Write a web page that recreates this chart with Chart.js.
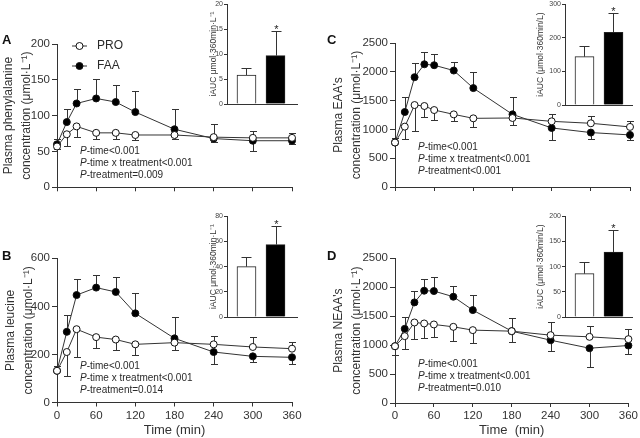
<!DOCTYPE html>
<html>
<head>
<meta charset="utf-8">
<script src="https://cdn.jsdelivr.net/npm/chart.js@4.4.1/dist/chart.umd.min.js"></script>
<style>
  body { margin: 0; background: #fff; }
  #wrap { position: relative; width: 640px; height: 438px; overflow: hidden; font-family: "Liberation Sans", Arial, sans-serif; color: #2a2a2a; }
  canvas { position: absolute; }
  .letter { position: absolute; font-weight: bold; font-size: 13px; line-height: 13px; color: #111; }
  .pv { position: absolute; font-size: 10px; line-height: 12px; white-space: nowrap; }
</style>
</head>
<body>
<div id="wrap">
  <canvas id="cA" width="320" height="219" style="left:0;top:0"></canvas>
  <canvas id="cB" width="320" height="219" style="left:0;top:219px"></canvas>
  <canvas id="cC" width="320" height="219" style="left:320px;top:0"></canvas>
  <canvas id="cD" width="320" height="219" style="left:320px;top:219px"></canvas>
  <canvas id="iA" width="100" height="111" style="left:205px;top:-1px"></canvas>
  <canvas id="iB" width="100" height="112" style="left:205px;top:211px"></canvas>
  <canvas id="iC" width="110" height="112" style="left:530px;top:-1px"></canvas>
  <canvas id="iD" width="110" height="112" style="left:530px;top:211px"></canvas>

  <div class="letter" style="left:2px;top:33px">A</div>
  <div class="letter" style="left:2px;top:249px">B</div>
  <div class="letter" style="left:327px;top:33px">C</div>
  <div class="letter" style="left:327px;top:249px">D</div>

  <div class="pv" style="left:80px;top:145px"><i>P</i>-time&lt;0.001<br><i>P</i>-time x treatment&lt;0.001<br><i>P</i>-treatment=0.009</div>
  <div class="pv" style="left:80px;top:360px"><i>P</i>-time&lt;0.001<br><i>P</i>-time x treatment&lt;0.001<br><i>P</i>-treatment=0.014</div>
  <div class="pv" style="left:418px;top:141px"><i>P</i>-time&lt;0.001<br><i>P</i>-time x treatment&lt;0.001<br><i>P</i>-treatment&lt;0.001</div>
  <div class="pv" style="left:418px;top:358px"><i>P</i>-time&lt;0.001<br><i>P</i>-time x treatment&lt;0.001<br><i>P</i>-treatment=0.010</div>
</div>
<script>
// sampling times (min)
const timesAB = [0, 15, 30, 60, 90, 120, 180, 240, 300, 360];
const timesCD = [0, 15, 30, 45, 60, 90, 120, 180, 240, 300, 360];
const xTicks = [0, 60, 120, 180, 240, 300, 360];

// error values: positive = bar drawn up, negative = drawn down
const pheProMean = [57, 74, 85, 76, 76, 73, 73, 70, 69, 69];
const pheProErr  = [-4, -16, -15, -9, -9, -7, -6, 19, 9, 7];
const pheFaaMean = [60, 91, 117, 124, 119, 105, 81, 68, 65, 65];
const pheFaaErr  = [8, 18, 20, 27, 24, 30, 28, -5, -14, -5];

const leuProMean = [132, 210, 305, 272, 262, 242, 249, 242, 231, 224];
const leuProErr  = [0, -98, -115, -44, -43, -43, -32, 36, 40, 29];
const leuFaaMean = [132, 294, 447, 478, 460, 371, 267, 210, 192, 188];
const leuFaaErr  = [20, 68, 65, 53, 64, 86, 87, -48, -25, -26];

const eaaProMean = [772, 1048, 1423, 1406, 1336, 1261, 1192, 1198, 1140, 1106, 1043];
const eaaProErr  = [0, -219, -444, -196, -172, -121, -144, -115, 133, 132, 103];
const eaaFaaMean = [772, 1302, 1907, 2131, 2114, 2022, 1717, 1261, 1025, 945, 904];
const eaaFaaErr  = [75, 253, 242, 219, 202, 155, 282, 306, -213, -104, -92];

const neaaProMean = [981, 1155, 1391, 1374, 1357, 1316, 1259, 1241, 1172, 1143, 1103];
const neaaProErr  = [-155, -220, -288, -248, -225, -242, -214, -184, 219, 191, 167];
const neaaFaaMean = [981, 1282, 1738, 1940, 1934, 1836, 1605, 1241, 1085, 947, 993];
const neaaFaaErr  = [0, 196, 196, 196, 237, 179, 254, 231, -190, -329, -138];

const pheTicks = [0, 50, 100, 150, 200];
const leuTicks = [0, 200, 400, 600];
const aaTicks = [0, 500, 1000, 1500, 2000, 2500];

// iAUC insets: [PRO, FAA]
const aucPhe = [5.8, 9.7];   const aucPheErr = [1.4, 5.0];
const aucLeu = [40, 57.5];   const aucLeuErr = [8, 15];
const aucEaa = [144, 216];   const aucEaaErr = [31, 57];
const aucNeaa = [86, 129];   const aucNeaaErr = [24, 43];
const aucPheTicks = [0, 5, 10, 15, 20];
const aucLeuTicks = [0, 20, 40, 60, 80];
const aucEaaTicks = [0, 100, 200, 300];
const aucNeaaTicks = [0, 50, 100, 150, 200];

const FONT = "'Liberation Sans', Arial, sans-serif";
const INK = '#333';
Chart.defaults.font.family = FONT;
Chart.defaults.color = '#333';

const errorBars = {
  id: 'errorBars',
  beforeDatasetsDraw(chart, args, opts) {
    const ctx = chart.ctx;
    const y = chart.scales.y;
    ctx.save();
    ctx.strokeStyle = INK;
    ctx.lineWidth = 1;
    chart.data.datasets.forEach((ds, di) => {
      if (!ds.errors) return;
      const meta = chart.getDatasetMeta(di);
      meta.data.forEach((el, i) => {
        const e = ds.errors[i];
        if (!e) return;
        const px = Math.round(el.x) + 0.5;
        const end = Math.round(y.getPixelForValue(ds.data[i].y + e)) + 0.5;
        ctx.beginPath();
        ctx.moveTo(px, el.y);
        ctx.lineTo(px, end);
        ctx.moveTo(px - opts.cap, end);
        ctx.lineTo(px + opts.cap, end);
        ctx.stroke();
        if (opts.star === i) {
          ctx.fillStyle = '#222';
          ctx.font = '11px ' + FONT;
          ctx.textAlign = 'center';
          ctx.textBaseline = 'alphabetic';
          ctx.fillText('*', px, end + 1);
        }
      });
    });
    ctx.restore();
  }
};

const innerLegend = {
  id: 'innerLegend',
  afterDatasetsDraw(chart, args, opts) {
    if (!opts || !opts.show) return;
    const ctx = chart.ctx;
    chart.data.datasets.forEach((ds, i) => {
      const y = opts.y + i * opts.dy;
      ctx.save();
      ctx.strokeStyle = ds.borderColor;
      ctx.lineWidth = 1;
      ctx.beginPath();
      ctx.moveTo(opts.x, y);
      ctx.lineTo(opts.x + opts.len, y);
      ctx.stroke();
      ctx.beginPath();
      ctx.arc(opts.x + opts.len / 2, y, ds.pointRadius, 0, Math.PI * 2);
      ctx.fillStyle = ds.pointBackgroundColor;
      ctx.fill();
      ctx.strokeStyle = ds.pointBorderColor;
      ctx.stroke();
      ctx.fillStyle = '#2a2a2a';
      ctx.font = '12px ' + FONT;
      ctx.textBaseline = 'middle';
      ctx.fillText(ds.label, opts.textX, y);
      ctx.restore();
    });
  }
};

const plain = v => String(v);

function series(label, times, mean, err, fill) {
  return {
    label,
    data: times.map((t, i) => ({ x: t, y: mean[i] })),
    errors: err,
    borderColor: INK,
    borderWidth: 1,
    pointRadius: 3.5,
    pointBorderWidth: 1,
    pointBackgroundColor: fill,
    pointBorderColor: '#111',
    tension: 0,
    clip: false
  };
}

function makeMain(id, c) {
  new Chart(document.getElementById(id), {
    type: 'line',
    data: {
      datasets: [
        series('PRO', c.times, c.pro, c.proErr, '#fff'),
        series('FAA', c.times, c.faa, c.faaErr, '#000')
      ]
    },
    options: {
      responsive: false,
      animation: false,
      devicePixelRatio: 1,
      layout: { padding: c.padding },
      plugins: {
        legend: { display: false },
        tooltip: { enabled: false },
        errorBars: { cap: 3.5 },
        innerLegend: c.legend || { show: false }
      },
      scales: {
        x: {
          type: 'linear',
          min: 0,
          max: 360,
          afterBuildTicks: s => { s.ticks = xTicks.map(v => ({ value: v })); },
          ticks: { display: !!c.xTitle, font: { size: 11.5 }, padding: 2, maxRotation: 0, autoSkip: false, callback: plain },
          grid: { drawOnChartArea: false, tickLength: 4, color: INK },
          border: { color: INK },
          title: { display: !!c.xTitle, text: c.xTitle, font: { size: 13, lineHeight: 1 }, padding: { top: 0, bottom: 0 } },
          afterFit: s => { s.height = c.xHeight; }
        },
        y: {
          min: c.yTicks[0],
          max: c.yTicks[c.yTicks.length - 1],
          afterBuildTicks: s => { s.ticks = c.yTicks.map(v => ({ value: v })); },
          ticks: { font: { size: 11.5 }, padding: 2, callback: plain },
          grid: { drawOnChartArea: false, tickLength: 5, color: INK },
          border: { color: INK },
          title: { display: true, text: c.yTitle, font: { size: 12, lineHeight: 1.5 }, padding: { top: c.titlePad, bottom: 0 } },
          afterFit: s => { s.width = c.axisW; }
        }
      }
    },
    plugins: [errorBars, innerLegend]
  });
}

function makeInset(id, c) {
  new Chart(document.getElementById(id), {
    type: 'bar',
    data: {
      datasets: [{
        data: c.auc.map((v, i) => ({ x: i + 1, y: v })),
        errors: c.err,
        backgroundColor: ['#fff', '#000'],
        borderColor: '#222',
        borderWidth: 1,
        barThickness: 19
      }]
    },
    options: {
      responsive: false,
      animation: false,
      devicePixelRatio: 1,
      layout: { padding: c.padding },
      plugins: {
        legend: { display: false },
        tooltip: { enabled: false },
        errorBars: { cap: 5, star: 1 }
      },
      scales: {
        x: {
          type: 'linear',
          offset: false,
          min: 0.328,
          max: c.xMax,
          ticks: { display: false },
          grid: { display: false, offset: false },
          border: { color: INK },
          afterFit: s => { s.height = 0; }
        },
        y: {
          min: c.yTicks[0],
          max: c.yTicks[c.yTicks.length - 1],
          afterBuildTicks: s => { s.ticks = c.yTicks.map(v => ({ value: v })); },
          ticks: { font: { size: 7 }, padding: 1, color: '#444', callback: plain },
          grid: { drawOnChartArea: false, tickLength: 3, color: INK },
          border: { color: INK },
          title: { display: true, text: c.yTitle, font: { size: 8.5, lineHeight: 1.2 }, padding: { top: c.titlePad, bottom: 0 } },
          afterFit: s => { s.width = c.axisW; }
        }
      }
    },
    plugins: [errorBars]
  });
}

makeMain('cA', {
  times: timesAB, pro: pheProMean, proErr: pheProErr, faa: pheFaaMean, faaErr: pheFaaErr,
  yTicks: pheTicks, yTitle: ['Plasma phenylalanine', 'concentration (μmol·L⁻¹)'],
  padding: { left: 0, top: 44, right: 28, bottom: 25.7 }, xHeight: 6, axisW: 57, titlePad: 0,
  legend: { show: true, x: 72, y: 46, dy: 20, len: 15, textX: 97 }
});
makeMain('cB', {
  times: timesAB, pro: leuProMean, proErr: leuProErr, faa: leuFaaMean, faaErr: leuFaaErr,
  yTicks: leuTicks, yTitle: ['Plasma leucine', 'concentration (μmol·L⁻¹)'],
  padding: { left: 0, top: 39.3, right: 28, bottom: 1.5 }, xHeight: 34, axisW: 57, titlePad: 2,
  xTitle: 'Time (min)'
});
makeMain('cC', {
  times: timesCD, pro: eaaProMean, proErr: eaaProErr, faa: eaaFaaMean, faaErr: eaaFaaErr,
  yTicks: aaTicks, yTitle: ["Plasma EAA's", 'concentration (μmol·L⁻¹)'],
  padding: { left: 0, top: 43, right: 10, bottom: 26 }, xHeight: 6, axisW: 75, titlePad: 10
});
makeMain('cD', {
  times: timesCD, pro: neaaProMean, proErr: neaaProErr, faa: neaaFaaMean, faaErr: neaaFaaErr,
  yTicks: aaTicks, yTitle: ["Plasma NEAA's", 'concentration (μmol·L⁻¹)'],
  padding: { left: 0, top: 39.3, right: 10, bottom: 1 }, xHeight: 34, axisW: 75, titlePad: 10,
  xTitle: 'Time  (min)'
});

makeInset('iA', { auc: aucPhe, err: aucPheErr, yTicks: aucPheTicks, yTitle: 'iAUC μmol·360min·L⁻¹',
  padding: { left: 0, top: 5, right: 8, bottom: 6 }, axisW: 22, titlePad: 4, xMax: 2.741 });
makeInset('iB', { auc: aucLeu, err: aucLeuErr, yTicks: aucLeuTicks, yTitle: 'iAUC μmol·360min·L⁻¹',
  padding: { left: 0, top: 5, right: 8, bottom: 6 }, axisW: 22, titlePad: 4, xMax: 2.741 });
makeInset('iC', { auc: aucEaa, err: aucEaaErr, yTicks: aucEaaTicks, yTitle: 'iAUC (μmol·360min/L)',
  padding: { left: 0, top: 5, right: 8, bottom: 6 }, axisW: 35, titlePad: 5.5, xMax: 2.638 });
makeInset('iD', { auc: aucNeaa, err: aucNeaaErr, yTicks: aucNeaaTicks, yTitle: 'iAUC (μmol·360min/L)',
  padding: { left: 0, top: 5, right: 8, bottom: 6 }, axisW: 35, titlePad: 5.5, xMax: 2.638 });
</script>
</body>
</html>
